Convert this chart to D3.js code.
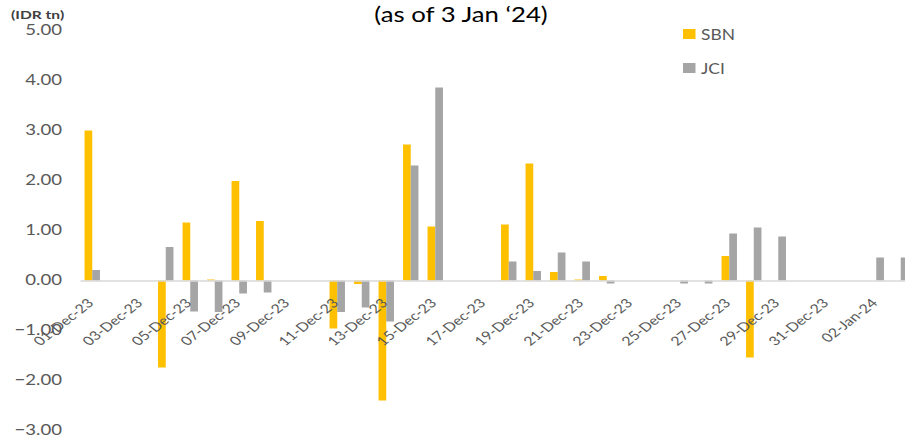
<!DOCTYPE html>
<html>
<head>
<meta charset="utf-8">
<script src="https://cdn.jsdelivr.net/npm/d3@7"></script>
<style>
  html, body { margin: 0; padding: 0; background: #fff; }
  svg { display: block; overflow: hidden; }
  text { font-family: Lato, "Open Sans", sans-serif; }
</style>
</head>
<body>
<svg id="chart" width="905" height="438"></svg>
<script>
// Daily net foreign flows, 1 Dec 2023 – 3 Jan 2024 (IDR tn); null = no trading
const days = [
  "01-Dec-23","02-Dec-23","03-Dec-23","04-Dec-23","05-Dec-23","06-Dec-23","07-Dec-23",
  "08-Dec-23","09-Dec-23","10-Dec-23","11-Dec-23","12-Dec-23","13-Dec-23","14-Dec-23",
  "15-Dec-23","16-Dec-23","17-Dec-23","18-Dec-23","19-Dec-23","20-Dec-23","21-Dec-23",
  "22-Dec-23","23-Dec-23","24-Dec-23","25-Dec-23","26-Dec-23","27-Dec-23","28-Dec-23",
  "29-Dec-23","30-Dec-23","31-Dec-23","01-Jan-24","02-Jan-24","03-Jan-24"
];
const sbn = [
  3.00, null, null, -1.74, 1.16, 0.02, 1.99,
  1.19, null, null, -0.96, -0.07, -2.40, 2.72,
  1.08, null, null, 1.12, 2.34, 0.17, 0.02,
  0.09, null, null, 0, 0, 0.49, -1.54,
  0, null, null, null, 0, 0
];
const jci = [
  0.21, null, null, 0.67, -0.62, -0.63, -0.26,
  -0.24, null, null, -0.63, -0.54, -0.82, 2.30,
  3.86, null, null, 0.38, 0.19, 0.56, 0.38,
  -0.06, null, null, -0.06, -0.06, 0.94, 1.06,
  0.88, null, null, null, 0.46, 0.46
];
const seriesNames = ["SBN", "JCI"];
const yTicks = [-3, -2, -1, 0, 1, 2, 3, 4, 5];
const titleText = "(as of 3 Jan \u201824)";
const unitText = "(IDR tn)";

const colors = { SBN: "#FFC000", JCI: "#A5A5A5" };
const textGrey = "#595959";
// text in this chart is drawn slightly wide
const sx = 1.2;

const svg = d3.select("#chart");

const step = 24.5;
const plotLeft = 80;
const x0 = d3.scaleBand()
  .domain(days)
  .range([plotLeft, plotLeft + step * days.length])
  .padding(0);
const x1 = d3.scaleBand()
  .domain(seriesNames)
  .range([0, x0.bandwidth()])
  .paddingInner(0)
  .paddingOuter(0.59);
const y = d3.scaleLinear().domain([-3, 5]).range([430.5, 30.5]);

const rows = days.map((d, i) => ({ day: d, SBN: sbn[i], JCI: jci[i] }));

// bars
const groups = svg.append("g").selectAll("g")
  .data(rows)
  .join("g")
  .attr("transform", d => `translate(${x0(d.day)},0)`);

groups.selectAll("rect")
  .data(d => seriesNames.map(k => ({ key: k, value: d[k] })).filter(v => v.value !== null && v.value !== 0))
  .join("rect")
  .attr("x", d => x1(d.key))
  .attr("width", x1.bandwidth())
  .attr("y", d => y(Math.max(0, d.value)))
  .attr("height", d => Math.abs(y(d.value) - y(0)))
  .attr("fill", d => colors[d.key]);

// horizontal category axis at zero
const xAxis = d3.axisBottom(x0)
  .tickValues(days.filter((d, i) => i % 2 === 0))
  .tickSize(0)
  .tickSizeOuter(0);
const gx = svg.append("g")
  .attr("transform", `translate(0,${y(0)})`)
  .call(xAxis);
gx.select(".domain").attr("stroke", "#d9d9d9").attr("stroke-width", 1.3);
gx.selectAll(".tick text")
  .attr("fill", textGrey)
  .attr("font-size", 12.5)
  .attr("text-anchor", "end")
  .attr("dy", null)
  .attr("y", 0)
  .attr("dominant-baseline", "central")
  .attr("transform", `translate(-2,20) scale(1.28,1) rotate(-45)`);

// value axis labels
const yAxis = d3.axisLeft(y)
  .tickValues(yTicks)
  .tickFormat(d3.format(".2f"))
  .tickSize(0)
  .tickPadding(0);
const gy = svg.append("g")
  .attr("transform", `translate(${plotLeft},0)`)
  .call(yAxis);
gy.select(".domain").remove();
gy.selectAll(".tick text")
  .attr("x", 0)
  .attr("dy", "0.26em")
  .attr("transform", `translate(-18,0) scale(${sx},1)`)
  .attr("fill", textGrey)
  .attr("font-size", 15.5);

// unit label
svg.append("text")
  .attr("transform", `translate(11,19) scale(1.3,1)`)
  .attr("font-size", 12)
  .attr("font-weight", 700)
  .attr("fill", "#404040")
  .text(unitText);

// title
svg.append("text")
  .attr("transform", `translate(461,21.5) scale(1.17,1)`)
  .attr("text-anchor", "middle")
  .attr("font-size", 22)
  .attr("fill", "#000")
  .text(titleText);

// legend
const legend = svg.append("g").selectAll("g")
  .data(seriesNames)
  .join("g")
  .attr("transform", (d, i) => `translate(683,${29 + i * 34})`);
legend.append("rect")
  .attr("width", 12.5)
  .attr("height", 10)
  .attr("fill", d => colors[d]);
legend.append("text")
  .attr("transform", `translate(18,5) scale(${sx},1)`)
  .attr("dominant-baseline", "central")
  .attr("font-size", 14.5)
  .attr("fill", textGrey)
  .text(d => d);
</script>
</body>
</html>
